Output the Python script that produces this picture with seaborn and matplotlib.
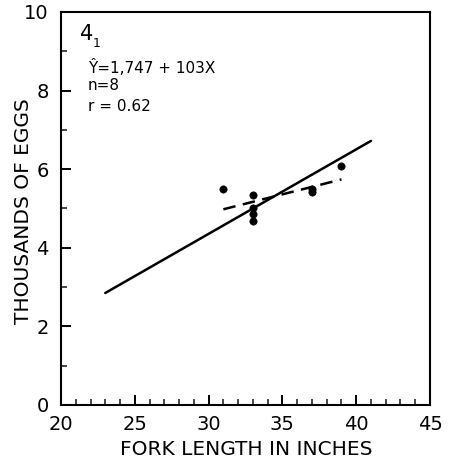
import matplotlib
matplotlib.use("Agg")
import matplotlib.pyplot as plt
import seaborn as sns
import pandas as pd
from matplotlib.ticker import MultipleLocator

# Data
fork_length = [31, 33, 33, 33, 33, 37, 37, 39]
eggs_thousands = [5.50, 5.35, 5.00, 4.85, 4.68, 5.50, 5.42, 6.08]

fit_x = [23, 41]
fit_y = [2.85, 6.72]

dash_x = [31, 39]
dash_y = [4.98, 5.74]

x_ticks = [20, 25, 30, 35, 40, 45]
y_ticks = [0, 2, 4, 6, 8, 10]

sns.set_theme(style="ticks")
plt.rcParams["font.family"] = ["DejaVu Sans"]
plt.rcParams["text.color"] = "black"
plt.rcParams["axes.labelcolor"] = "black"

fig = plt.figure(figsize=(4.49, 4.66), dpi=100)
ax = fig.add_axes([61 / 449, 1 - 405 / 466, (430 - 61) / 449, (405 - 12) / 466])
ax.set_facecolor("white")

pts = pd.DataFrame({"x": fork_length, "y": eggs_thousands})
sns.scatterplot(data=pts, x="x", y="y", ax=ax, color="black", s=28, edgecolor="black", zorder=3)
sns.lineplot(x=fit_x, y=fit_y, ax=ax, color="black", linewidth=1.8)
sns.lineplot(x=dash_x, y=dash_y, ax=ax, color="black", linewidth=1.8, linestyle=(0, (5, 3)))

ax.set_xlim(20, 45)
ax.set_ylim(0, 10)
ax.set_xticks(x_ticks)
ax.set_yticks(y_ticks)
ax.xaxis.set_minor_locator(MultipleLocator(1))
ax.yaxis.set_minor_locator(MultipleLocator(1))
ax.tick_params(which="major", direction="in", length=7, width=1.4, labelsize=14, colors="black")
ax.tick_params(axis="x", which="major", pad=7)
ax.tick_params(axis="y", which="major", pad=9)
ax.tick_params(which="minor", direction="in", length=4, width=1.2)
for s in ax.spines.values():
    s.set_linewidth(1.5)
    s.set_color("black")

ax.set_xlabel("FORK LENGTH IN INCHES", fontsize=14.5)
ax.set_ylabel("THOUSANDS OF EGGS", fontsize=14.5)
ax.xaxis.set_label_coords(0.503, -0.088)
ax.yaxis.set_label_coords(-0.076, 0.494)

ax.text(21.3, 9.45, "4", fontsize=15, ha="left", va="center")
ax.text(22.15, 9.2, "1", fontsize=9, ha="left", va="center")
ax.text(21.8, 8.6, "Ŷ=1,747 + 103X", fontsize=11, ha="left", va="center")
ax.text(21.8, 8.12, "n=8", fontsize=11, ha="left", va="center")
ax.text(21.8, 7.6, "r = 0.62", fontsize=11, ha="left", va="center")

fig.savefig("out.png", dpi=100, facecolor="white")
